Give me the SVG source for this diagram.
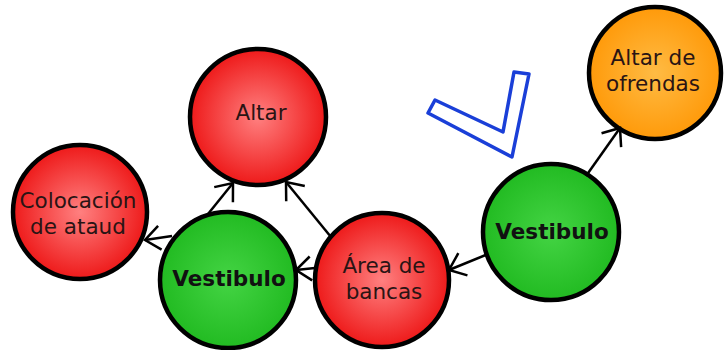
<svg xmlns="http://www.w3.org/2000/svg" width="726" height="350" viewBox="0 0 726 350">
<defs>
<radialGradient id="gRed" cx="50%" cy="50%" r="50%">
<stop offset="0" stop-color="#ff8080"/>
<stop offset="1" stop-color="#ee1a1a"/>
</radialGradient>
<radialGradient id="gGreen" cx="50%" cy="50%" r="50%">
<stop offset="0" stop-color="#44d444"/>
<stop offset="1" stop-color="#22bb22"/>
</radialGradient>
<radialGradient id="gOrange" cx="50%" cy="50%" r="50%">
<stop offset="0" stop-color="#ffbb44"/>
<stop offset="1" stop-color="#ff9a0a"/>
</radialGradient>
<marker id="arr" markerUnits="userSpaceOnUse" markerWidth="22" markerHeight="30" refX="18" refY="15" orient="auto" viewBox="0 0 22 30">
<path d="M3,3 L18,15 L3,27" fill="none" stroke="#000" stroke-width="2.5"/>
</marker>
<style>
.node{stroke:#000;stroke-width:4.5}
.t{font-family:"DejaVu Sans",Verdana,sans-serif;font-size:21.5px;fill:#2a1414;text-anchor:middle}
.b{font-weight:bold;fill:#111}
.c{stroke:#000;stroke-width:2.5;fill:none}
</style>
</defs>
<rect width="726" height="350" fill="#fff"/>
<polygon points="435,100 503,132 514,72 529,74 512,157 428,113" fill="none" stroke="#1a3fd8" stroke-width="3.5" stroke-linejoin="round"/>
<g id="altar">
<circle class="node" cx="258" cy="117" r="68" fill="url(#gRed)"/>
<text class="t" x="261" y="120">Altar</text>
</g>
<g id="colocacion">
<circle class="node" cx="80" cy="212" r="67" fill="url(#gRed)"/>
<text class="t" x="78" y="208">Colocación</text>
<text class="t" x="78" y="234">de ataud</text>
</g>
<g id="vestibulo1">
<circle class="node" cx="228" cy="280" r="68" fill="url(#gGreen)"/>
<text class="t b" x="229" y="286">Vestibulo</text>
</g>
<g id="area">
<circle class="node" cx="382" cy="280" r="67" fill="url(#gRed)"/>
<text class="t" x="384" y="273">Área de</text>
<text class="t" x="384" y="299">bancas</text>
</g>
<g id="vestibulo2">
<circle class="node" cx="551" cy="232" r="68" fill="url(#gGreen)"/>
<text class="t b" x="552" y="239">Vestibulo</text>
</g>
<g id="ofrendas">
<circle class="node" cx="655" cy="73" r="66" fill="url(#gOrange)"/>
<text class="t" x="653" y="65">Altar de</text>
<text class="t" x="653" y="91">ofrendas</text>
</g>
<g id="connectors">
<line class="c" x1="172" y1="236" x2="145" y2="240" marker-end="url(#arr)"/>
<line class="c" x1="208" y1="214" x2="233" y2="183" marker-end="url(#arr)"/>
<line class="c" x1="331" y1="237" x2="286" y2="182" marker-end="url(#arr)"/>
<line class="c" x1="315" y1="268" x2="296" y2="270" marker-end="url(#arr)"/>
<line class="c" x1="488" y1="254" x2="449" y2="270" marker-end="url(#arr)"/>
<line class="c" x1="586" y1="176" x2="620" y2="128" marker-end="url(#arr)"/>
</g>
</svg>
